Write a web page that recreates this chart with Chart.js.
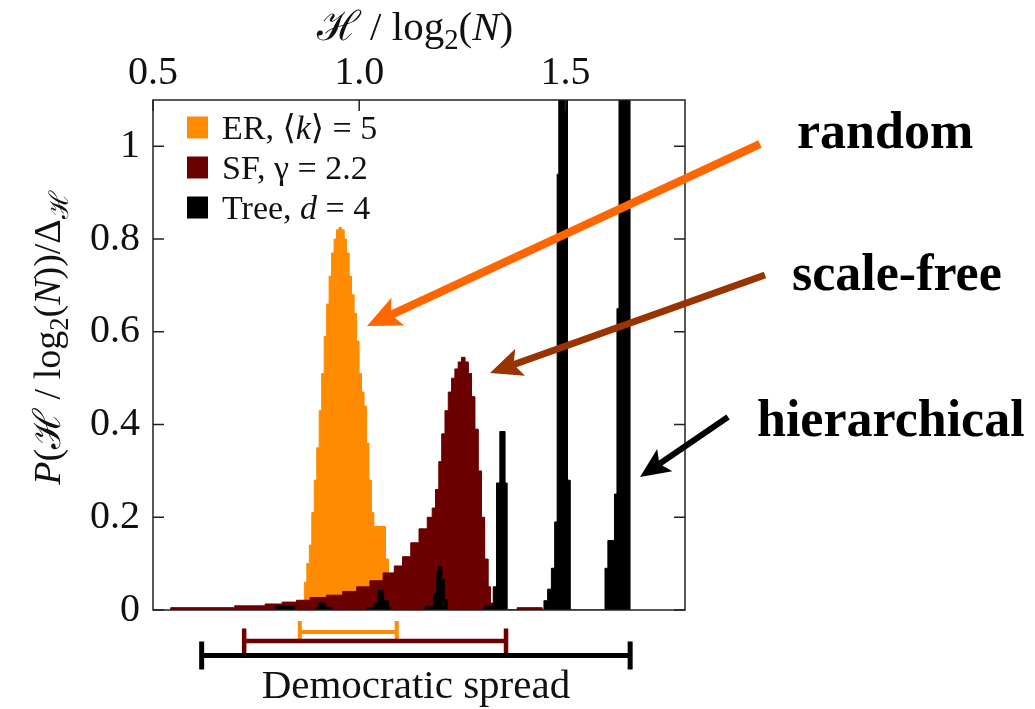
<!DOCTYPE html>
<html>
<head>
<meta charset="utf-8">
<script src="https://cdn.jsdelivr.net/npm/chart.js@4.4.1/dist/chart.umd.min.js"></script>
<style>
  body { margin: 0; background: #fff; }
  #wrap { width: 1035px; height: 709px; position: relative; }
</style>
</head>
<body>
<div id="wrap"><canvas id="entropyChart"></canvas></div>
<script>
// Histograms of H / log2(N) (bin left edge, height)
// ER random graph, <k> = 5
const erX = [0.859, 0.867, 0.873, 0.879, 0.885, 0.891, 0.897, 0.903, 0.909, 0.915, 0.921, 0.927, 0.933, 0.939, 0.945, 0.951,
             0.957, 0.963, 0.969, 0.975, 0.981, 0.987, 0.993, 0.999, 1.005, 1.011, 1.017, 1.023, 1.029, 1.035, 1.063, 1.071];
const erY = [0.02, 0.06, 0.10, 0.14, 0.21, 0.28, 0.35, 0.43, 0.51, 0.59, 0.66, 0.72, 0.77, 0.80, 0.82, 0.825,
             0.82, 0.80, 0.77, 0.72, 0.68, 0.64, 0.58, 0.51, 0.47, 0.44, 0.36, 0.28, 0.21, 0.18, 0.11, 0];

// scale-free, gamma = 2.2
const sfX = [0.543, 0.698, 0.772, 0.813, 0.848, 0.881, 0.921, 0.960, 0.994, 1.026, 1.058, 1.085, 1.105, 1.125, 1.145, 1.165,
             1.177, 1.185, 1.193, 1.200, 1.208, 1.216, 1.224, 1.232, 1.240, 1.248, 1.256, 1.264, 1.272, 1.280, 1.288, 1.296,
             1.304, 1.312, 1.318, 1.324, 1.383, 1.443];
const sfY = [0.005, 0.009, 0.013, 0.017, 0.021, 0.027, 0.032, 0.040, 0.050, 0.063, 0.080, 0.095, 0.115, 0.145, 0.175, 0.200,
             0.220, 0.260, 0.320, 0.380, 0.430, 0.470, 0.500, 0.520, 0.535, 0.545, 0.535, 0.510, 0.460, 0.390, 0.300, 0.200,
             0.110, 0.050, 0.015, 0, 0.005, 0];

// tree, d = 4 (the two big spikes run off the top of the plot)
const treeX = [0.798, 0.842, 0.897, 0.902, 0.917, 0.932, 1.019, 1.036, 1.046, 1.059, 1.071, 1.075, 1.160, 1.180, 1.188, 1.192,
               1.200, 1.206, 1.214, 1.304, 1.325, 1.333, 1.341, 1.353, 1.358, 1.448, 1.457, 1.466, 1.474, 1.480, 1.484, 1.505,
               1.511, 1.596, 1.603, 1.619, 1.625, 1.630, 1.656];
const treeY = [0.009, 0, 0.006, 0.015, 0.006, 0, 0.005, 0.015, 0.043, 0.020, 0.005, 0, 0.007, 0.035, 0.080, 0.094,
               0.065, 0.022, 0, 0.008, 0.050, 0.274, 0.385, 0.274, 0, 0.020, 0.045, 0.090, 0.190, 0.940, 1.6, 0.280,
               0, 0.090, 0.150, 0.250, 0.650, 1.6, 0];

const xTicks = [0.5, 1.0, 1.5];
const yTicks = [0, 0.2, 0.4, 0.6, 0.8, 1];

const seriesLabels = ['ER, ⟨k⟩ = 5', 'SF, γ = 2.2', 'Tree, d = 4'];
const seriesColors = ['#ff8c00', '#6b0000', '#000000'];

// "democratic spread" bars under the plot
const spreadLo = [0.856, 0.721, 0.618];
const spreadHi = [1.091, 1.356, 1.657];

const SERIF = "'Liberation Serif', 'DejaVu Serif', serif";

// histogram outline: start on the baseline, each bin holds its height until the next edge
function toSteps(xs, ys) {
    const pts = [{ x: xs[0], y: 0 }];
    xs.forEach((x, i) => {
        pts.push({ x: x, y: ys[i] });
        if (i < xs.length - 1) pts.push({ x: xs[i + 1], y: ys[i] });
    });
    return pts;
}

// draws a run of text pieces: [text, style] with style '' | 'i' | 'sub'
function richText(ctx, parts, x, y, size, align) {
    let total = 0;
    const items = parts.map(p => {
        const sz = p[1] === 'sub' ? size * 0.7 : size;
        const font = (p[1] === 'i' ? 'italic ' : '') + sz + 'px ' + SERIF;
        ctx.font = font;
        const w = ctx.measureText(p[0]).width;
        total += w;
        return { t: p[0], font: font, w: w, dy: p[1] === 'sub' ? size * 0.22 : 0 };
    });
    let cx = align === 'center' ? x - total / 2 : x;
    ctx.textAlign = 'left';
    ctx.textBaseline = 'alphabetic';
    items.forEach(it => {
        ctx.font = it.font;
        ctx.fillText(it.t, cx, y + it.dy);
        cx += it.w;
    });
}

function arrow(ctx, x1, y1, x2, y2, color, width, head) {
    const a = Math.atan2(y2 - y1, x2 - x1);
    const c = Math.cos(a), s = Math.sin(a);
    ctx.strokeStyle = color;
    ctx.fillStyle = color;
    ctx.lineWidth = width;
    ctx.lineCap = 'butt';
    ctx.beginPath();
    ctx.moveTo(x1, y1);
    ctx.lineTo(x2 - c * head * 0.7, y2 - s * head * 0.7);
    ctx.stroke();
    ctx.beginPath();
    ctx.moveTo(x2, y2);
    ctx.lineTo(x2 - c * head + s * head * 0.45, y2 - s * head - c * head * 0.45);
    ctx.lineTo(x2 - c * head * 0.78, y2 - s * head * 0.78);
    ctx.lineTo(x2 - c * head - s * head * 0.45, y2 - s * head + c * head * 0.45);
    ctx.closePath();
    ctx.fill();
}

const legendParts = [
    [['ER, ⟨', ''], ['k', 'i'], ['⟩ = 5', '']],
    [['SF, γ = 2.2', '']],
    [['Tree, ', ''], ['d', 'i'], [' = 4', '']]
];

const decorPlugin = {
    id: 'decor',
    afterDatasetsDraw(chart) {
        const ctx = chart.ctx;
        const a = chart.chartArea;
        const xs = chart.scales.x, ys = chart.scales.y;
        ctx.save();

        // frame and inward ticks
        ctx.strokeStyle = '#222';
        ctx.lineWidth = 1.5;
        ctx.strokeRect(a.left, a.top, a.right - a.left, a.bottom - a.top);
        ctx.beginPath();
        yTicks.forEach(v => {
            const py = ys.getPixelForValue(v);
            ctx.moveTo(a.left, py); ctx.lineTo(a.left + 11, py);
            ctx.moveTo(a.right, py); ctx.lineTo(a.right - 11, py);
        });
        xTicks.forEach(v => {
            const px = xs.getPixelForValue(v);
            ctx.moveTo(px, a.top); ctx.lineTo(px, a.top + 11);
        });
        ctx.stroke();

        // legend inside the plot
        legendParts.forEach((parts, i) => {
            const cy = 127.5 + i * 40;
            ctx.fillStyle = seriesColors[i];
            ctx.fillRect(187, cy - 11, 21, 22);
            ctx.fillStyle = '#111';
            richText(ctx, parts, 222, cy + 11, 34, 'left');
        });

        // axis titles
        ctx.fillStyle = '#111';
        richText(ctx, [['ℋ', ''], [' / log', ''], ['2', 'sub'], ['(', ''], ['N', 'i'], [')', '']],
                 (a.left + a.right) / 2 - 4, 40, 41, 'center');
        ctx.save();
        ctx.translate(60, 338);
        ctx.rotate(-Math.PI / 2);
        richText(ctx, [['P', 'i'], ['(ℋ / log', ''], ['2', 'sub'], ['(', ''], ['N', 'i'], ['))/Δ', ''], ['ℋ', 'sub']],
                 0, 0, 38, 'center');
        ctx.restore();

        // democratic spread bars
        const barY = [632, 641, 655.5];
        const capH = [11, 12.5, 14];
        const barW = [4, 4.5, 5];
        for (let i = 0; i < 3; i++) {
            const x1 = xs.getPixelForValue(spreadLo[i]);
            const x2 = xs.getPixelForValue(spreadHi[i]);
            ctx.strokeStyle = seriesColors[i];
            ctx.lineWidth = barW[i];
            ctx.beginPath();
            ctx.moveTo(x1, barY[i]); ctx.lineTo(x2, barY[i]);
            ctx.moveTo(x1, barY[i] - capH[i]); ctx.lineTo(x1, barY[i] + capH[i]);
            ctx.moveTo(x2, barY[i] - capH[i]); ctx.lineTo(x2, barY[i] + capH[i]);
            ctx.stroke();
        }
        ctx.fillStyle = '#111';
        ctx.font = '41px ' + SERIF;
        ctx.textAlign = 'center';
        ctx.textBaseline = 'alphabetic';
        ctx.fillText('Democratic spread', (xs.getPixelForValue(spreadLo[2]) + xs.getPixelForValue(spreadHi[2])) / 2, 698);

        // annotations on the right
        ctx.font = 'bold 52px ' + SERIF;
        ctx.textAlign = 'left';
        ctx.fillStyle = '#000';
        ctx.fillText('random', 797, 148);
        ctx.fillText('scale-free', 792, 290);
        ctx.fillText('hierarchical', 757, 436);
        arrow(ctx, 760, 144, 367, 326, '#ff6600', 8, 34);
        arrow(ctx, 765, 275, 490, 373, '#993300', 7, 32);
        arrow(ctx, 728, 417, 640, 477, '#000000', 6, 30);

        ctx.restore();
    }
};

Chart.defaults.font.family = SERIF;
Chart.defaults.color = '#111';

function histSet(i, xs, ys, order) {
    return {
        label: seriesLabels[i], data: toSteps(xs, ys), order: order,
        borderColor: seriesColors[i], backgroundColor: seriesColors[i],
        borderWidth: 1, pointRadius: 0, tension: 0, fill: 'shape'
    };
}

new Chart(document.getElementById('entropyChart'), {
    type: 'line',
    data: {
        datasets: [
            histSet(0, erX, erY, 2),
            histSet(1, sfX, sfY, 1),
            histSet(2, treeX, treeY, 0)
        ]
    },
    options: {
        responsive: true,
        maintainAspectRatio: false,
        animation: false,
        layout: { padding: { left: 0, top: 0, right: 350, bottom: 99 } },
        plugins: { legend: { display: false }, tooltip: { enabled: false } },
        scales: {
            x: {
                type: 'linear', position: 'top', min: 0.5, max: 1.79,
                afterFit: s => { s.height = 100; },
                afterBuildTicks: s => { s.ticks = xTicks.map(v => ({ value: v })); },
                grid: { display: false, drawTicks: false },
                border: { display: false },
                ticks: {
                    autoSkip: false, maxRotation: 0, padding: 7,
                    font: { size: 40, lineHeight: 1 }, color: '#111',
                    callback: v => v.toFixed(1)
                }
            },
            y: {
                type: 'linear', min: 0, max: 1.1,
                afterFit: s => { s.width = 153; },
                afterBuildTicks: s => { s.ticks = yTicks.map(v => ({ value: v })); },
                grid: { display: false, drawTicks: false },
                border: { display: false },
                ticks: {
                    autoSkip: false, padding: 13,
                    font: { size: 40, lineHeight: 1 }, color: '#111',
                    callback: v => String(v)
                }
            }
        }
    },
    plugins: [decorPlugin]
});
</script>
</body>
</html>
